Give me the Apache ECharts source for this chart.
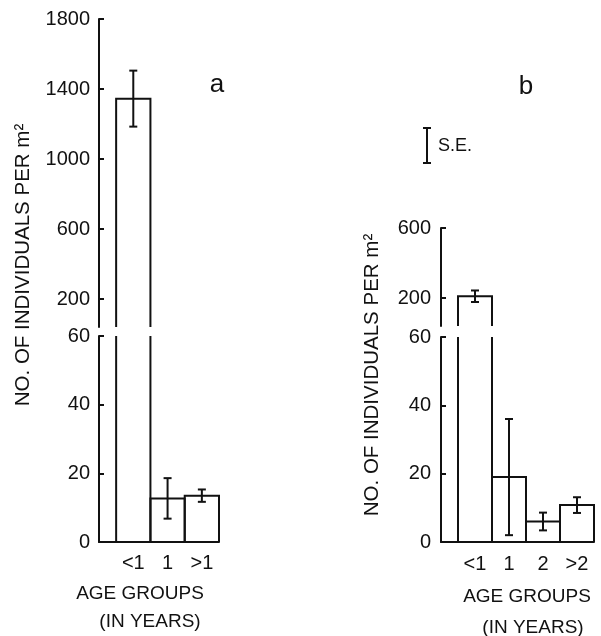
<!DOCTYPE html>
<html>
<head>
<meta charset="utf-8">
<script src="https://cdn.jsdelivr.net/npm/echarts@6/dist/echarts.min.js"></script>
<style>
html,body{margin:0;padding:0;background:#fff;}
#chart{width:601px;height:636px;}
</style>
</head>
<body>
<div id="chart"></div>
<script>
// ---- data ----
const catsA = ['<1', '1', '>1'];
const meanA = [1345, 12.7, 13.5];
const seA = [160, 5.9, 1.8];

const catsB = ['<1', '1', '2', '>2'];
const meanB = [210, 19, 6, 10.8];
const seB = [33, 17, 2.6, 2.3];

const upperTicksA = [200, 600, 1000, 1400, 1800];
const upperTicksB = [200, 600];
const lowerTicks = [0, 20, 40, 60];

const yName = 'NO. OF INDIVIDUALS PER m\u00B2';
const xName1 = 'AGE GROUPS';
const xName2 = '(IN YEARS)';

// ---- style ----
const INK = '#111';
const FONT = "'Liberation Sans', Arial, Helvetica, sans-serif";
const LW = 2;

function barRender(params, api) {
  const cs = params.coordSys;
  const xv = api.value(0), v = api.value(1);
  const halfW = api.size([1, 0])[0] / 2;
  const c = api.coord([xv, v]);
  const yBottom = cs.y + cs.height;
  if (c[1] >= yBottom) return null;
  const x0 = c[0] - halfW, x1 = c[0] + halfW;
  const clipped = c[1] < cs.y;
  const yTop = clipped ? cs.y : c[1];
  const style = { stroke: INK, lineWidth: LW, fill: null };
  if (clipped) {
    return { type: 'group', children: [
      { type: 'line', shape: { x1: x0, y1: yBottom, x2: x0, y2: yTop }, style: style },
      { type: 'line', shape: { x1: x1, y1: yBottom, x2: x1, y2: yTop }, style: style }
    ]};
  }
  return { type: 'polyline', shape: { points: [[x0, yBottom], [x0, yTop], [x1, yTop], [x1, yBottom]] }, style: style };
}

function errRender(params, api) {
  const cs = params.coordSys;
  const xv = api.value(0), m = api.value(1), s = api.value(2);
  const top = api.coord([xv, m + s]), bot = api.coord([xv, m - s]);
  if (top[1] < cs.y - 1 || bot[1] > cs.y + cs.height + 1) return null;
  const cap = 4;
  const style = { stroke: INK, lineWidth: LW };
  return { type: 'group', children: [
    { type: 'line', shape: { x1: top[0], y1: top[1], x2: bot[0], y2: bot[1] }, style: style },
    { type: 'line', shape: { x1: top[0] - cap, y1: top[1], x2: top[0] + cap, y2: top[1] }, style: style },
    { type: 'line', shape: { x1: bot[0] - cap, y1: bot[1], x2: bot[0] + cap, y2: bot[1] }, style: style }
  ]};
}

function yAxisCfg(gi, min, max, ticks, margin) {
  return {
    type: 'value', gridIndex: gi, min: min, max: max,
    axisLine: { show: true, lineStyle: { color: INK, width: LW } },
    axisTick: { show: true, inside: true, length: 5, customValues: ticks, lineStyle: { color: INK, width: LW } },
    axisLabel: { customValues: ticks, formatter: function (v) { return String(v); },
      margin: margin, color: INK, fontFamily: FONT, fontSize: 20 },
    splitLine: { show: false }
  };
}

function xAxisCfg(gi, max, cats, showIt, margin) {
  return {
    type: 'value', gridIndex: gi, min: 0, max: max, show: showIt,
    axisLine: { show: true, onZero: false, lineStyle: { color: INK, width: LW } },
    axisTick: { show: false },
    axisLabel: {
      customValues: cats.map((c, i) => i + 1),
      formatter: function (v) { return cats[Math.round(v) - 1] || ''; },
      margin: margin, color: INK, fontFamily: FONT, fontSize: 20
    },
    splitLine: { show: false }
  };
}

const dataA = catsA.map((c, i) => [i + 1, meanA[i], seA[i]]);
const dataB = catsB.map((c, i) => [i + 1, meanB[i], seB[i]]);

function txt(x, y, text, size, align, rot) {
  return {
    type: 'text', x: x, y: y, rotation: rot || 0,
    style: { text: text, fill: INK, font: size + 'px ' + FONT,
      textAlign: align || 'center', textVerticalAlign: 'middle',
      align: align || 'center', verticalAlign: 'middle' }
  };
}

const option = {
  backgroundColor: '#fff',
  animation: false,
  grid: [
    { left: 99, top: 19, width: 120, height: 308, outerBoundsMode: 'none' },
    { left: 99, top: 336, width: 120, height: 206, outerBoundsMode: 'none' },
    { left: 441, top: 228, width: 153, height: 98, outerBoundsMode: 'none' },
    { left: 441, top: 337, width: 153, height: 205, outerBoundsMode: 'none' }
  ],
  xAxis: [
    xAxisCfg(0, catsA.length + 0.5, catsA, false, 11),
    xAxisCfg(1, catsA.length + 0.5, catsA, true, 11),
    xAxisCfg(2, catsB.length + 0.5, catsB, false, 12),
    xAxisCfg(3, catsB.length + 0.5, catsB, true, 12)
  ],
  yAxis: [
    yAxisCfg(0, 40, 1800, upperTicksA, 9),
    yAxisCfg(1, 0, 60, lowerTicks, 9),
    yAxisCfg(2, 40, 600, upperTicksB, 10),
    yAxisCfg(3, 0, 60, lowerTicks, 10)
  ],
  series: [0, 1, 2, 3].flatMap(function (gi) {
    const d = gi < 2 ? dataA : dataB;
    return [
      { type: 'custom', xAxisIndex: gi, yAxisIndex: gi, renderItem: barRender, data: d, clip: false, encode: { x: 0, y: 1 }, silent: true },
      { type: 'custom', xAxisIndex: gi, yAxisIndex: gi, renderItem: errRender, data: d, clip: false, encode: { x: 0, y: [1, 2] }, silent: true, z: 3 }
    ];
  }),
  graphic: [
    txt(217, 85, 'a', 26),
    txt(526, 87, 'b', 26),
    txt(23, 265, yName, 20.5, 'center', Math.PI / 2),
    txt(372, 375, yName, 20.5, 'center', Math.PI / 2),
    txt(140, 594, xName1, 19),
    txt(150, 622, xName2, 19),
    txt(527, 597, xName1, 19),
    txt(533, 628, xName2, 19),
    // S.E. key
    { type: 'line', shape: { x1: 427, y1: 128, x2: 427, y2: 163 }, style: { stroke: INK, lineWidth: LW } },
    { type: 'line', shape: { x1: 423, y1: 128, x2: 431, y2: 128 }, style: { stroke: INK, lineWidth: LW } },
    { type: 'line', shape: { x1: 423, y1: 163, x2: 431, y2: 163 }, style: { stroke: INK, lineWidth: LW } },
    txt(438, 146, 'S.E.', 18, 'left')
  ]
};

const chart = echarts.init(document.getElementById('chart'), null, { renderer: 'canvas' });
chart.setOption(option);
</script>
</body>
</html>
